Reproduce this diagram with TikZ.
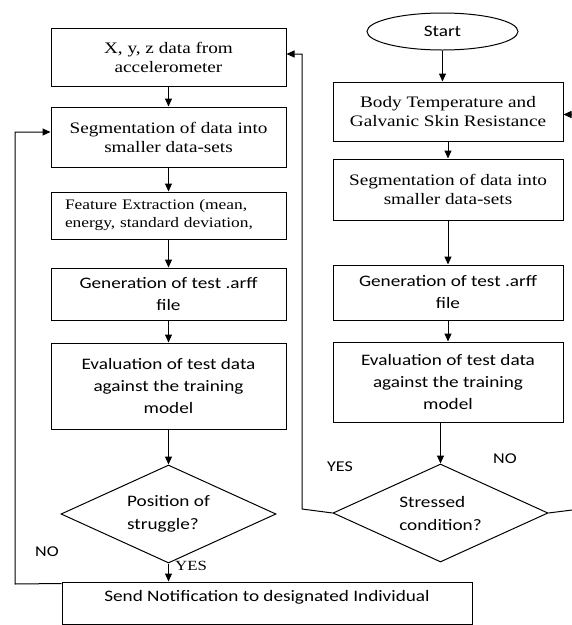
\documentclass[tikz,border=0pt]{standalone}
\usepackage{fontspec}
\setmainfont{Liberation Serif}[FakeStretch=1.2]
\newfontfamily\calfont{Carlito}[FakeStretch=1.2]
\usepackage{tikz}
\usetikzlibrary{arrows.meta, positioning, shapes.geometric}

\begin{document}
\begin{tikzpicture}[
    x=1pt, y=-1pt,
    >={Triangle[length=8pt, width=7pt]},
    box/.style={draw, line width=1pt, minimum width=235pt, align=center, inner sep=4pt},
    serif/.style={font=\fontsize{16}{19}\selectfont},
    cal/.style={font=\calfont\fontsize{16}{22}\selectfont},
    decision/.style={draw, diamond, line width=1pt, minimum width=215pt, minimum height=98pt, inner sep=0pt, aspect=2.2, align=left, font=\calfont\fontsize{16}{23}\selectfont},
    terminal/.style={draw, shape=ellipse, line width=1pt, inner sep=2pt, minimum width=151pt, minimum height=37pt},
    lbl/.style={font=\calfont\fontsize{15}{18}\selectfont},
    flow/.style={->, line width=1pt},
]
\useasboundingbox (0,0) rectangle (572,625);

% Left branch: accelerometer
\node[box, serif, minimum height=58pt] (accel) at (168.5,57) {X, y, z data from\\accelerometer};
\node[box, serif, minimum height=60pt, below=20pt of accel] (segA) {Segmentation of data into\\smaller data-sets};
\node[box, minimum height=47pt, below=24pt of segA, align=left, text width=207pt, font=\fontsize{14.5}{18}\selectfont] (feat) {Feature Extraction (mean,\\energy, standard deviation,};
\node[box, cal, minimum height=52pt, below=28pt of feat] (genA) {Generation of test .arff\\file};
\node[box, cal, minimum height=86pt, below=22pt of genA] (evalA) {Evaluation of test data\\against the training\\model};
\node[decision, below=35pt of evalA] (struggle) {Position of\\struggle?};

% Notification
\node[draw, line width=1pt, minimum width=410pt, text height=11pt, text depth=15pt, inner sep=8pt, font=\calfont\fontsize{16}{19}\selectfont] (notify) at (267,603) {Send Notification to designated Individual};

% Right branch: body sensors
\node[terminal, cal] (start) at (442.5,31.5) {Start};
\node[box, serif, minimum width=230pt, minimum height=59pt] (body) at (448,111.5) {Body Temperature and\\Galvanic Skin Resistance};
\node[box, serif, minimum width=230pt, minimum height=61pt, below=17pt of body] (segB) {Segmentation of data into\\smaller data-sets};
\node[box, cal, minimum width=230pt, minimum height=55pt, below=44pt of segB] (genB) {Generation of test .arff\\file};
\node[box, cal, minimum width=230pt, minimum height=80pt, below=21pt of genB] (evalB) {Evaluation of test data\\against the training\\model};
\node[decision, below=41pt of evalB, xshift=-7.5pt] (stress) {Stressed\\condition?};

% Turning points
\coordinate (noLeft) at (15,584);
\coordinate (yesUp) at (302,509);
\coordinate (noRight) at (580,509);

% Left arrows
\draw[flow] (accel) -- (segA);
\draw[flow] (segA) -- (feat);
\draw[flow] (feat) -- (genA);
\draw[flow] (genA) -- (evalA);
\draw[flow] (evalA) -- (struggle);
\draw[flow] (struggle.south) -- (struggle.south |- notify.north);
\draw[flow] ([yshift=-2pt]notify.north west) -- (noLeft) |- ([yshift=5pt]segA.west);

% Right arrows
\draw[flow] (start.south) -- (start.south |- body.north);
\draw[flow] (body) -- (segB);
\draw[flow] (segB) -- (genB);
\draw[flow] (genB) -- (evalB);
\draw[flow] (evalB.south -| stress.north) -- (stress.north);
\draw[flow] (stress.west) -- (yesUp) |- ([yshift=3pt]accel.east);
\draw[flow] (stress.east) -- (noRight) |- ([yshift=-3pt]body.east);

% Labels
\node[lbl] (noA) at (47,552) {NO};
\node[font=\fontsize{14}{16}\selectfont] (yesA) at (191,566) {YES};
\node[lbl] (yesB) at (340,467) {YES};
\node[lbl] (noB) at (505,459) {NO};
\end{tikzpicture}
\end{document}
